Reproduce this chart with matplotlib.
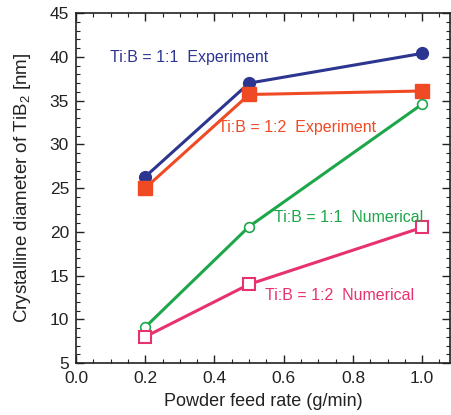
import matplotlib
matplotlib.use("Agg")
import matplotlib.pyplot as plt
from matplotlib.ticker import MultipleLocator

plt.rcParams['font.family'] = ['Liberation Sans', 'DejaVu Sans']
plt.rcParams['mathtext.fontset'] = 'custom'
plt.rcParams['mathtext.rm'] = 'Liberation Sans'

# powder feed rate (g/min)
feed = [0.2, 0.5, 1.0]

# crystalline diameter of TiB2 (nm)
exp_11 = [26.3, 37.0, 40.4]
exp_12 = [25.0, 35.7, 36.1]
num_11 = [9.1, 20.6, 34.6]
num_12 = [8.0, 14.0, 20.5]

blue = '#2c3590'
red = '#f04a24'
green = '#1ea64b'
pink = '#e8316f'

fig = plt.figure(figsize=(4.51, 4.15), dpi=100)
ax = fig.add_axes([0.1685, 0.1253, 0.829, 0.843])

ax.plot(feed, exp_11, '-o', color=blue, lw=2.2, ms=8.5)
ax.plot(feed, exp_12, '-s', color=red, lw=2.2, ms=9.5)
ax.plot(feed, num_11, '-o', color=green, lw=2.2, ms=7, mfc='white', mew=1.2)
ax.plot(feed, num_12, '-s', color=pink, lw=2.2, ms=8.5, mfc='white', mew=1.5)

ax.text(0.098, 39.9, 'Ti:B = 1:1  Experiment', color=blue, fontsize=11.5, va='center')
ax.text(0.41, 31.9, 'Ti:B = 1:2  Experiment', color=red, fontsize=11.5, va='center')
ax.text(0.572, 21.6, 'Ti:B = 1:1  Numerical', color=green, fontsize=11.5, va='center')
ax.text(0.546, 12.7, 'Ti:B = 1:2  Numerical', color=pink, fontsize=11.5, va='center')

ax.set_xlim(0, 1.08)
ax.set_ylim(5, 45)
ax.xaxis.set_major_locator(MultipleLocator(0.2))
ax.xaxis.set_minor_locator(MultipleLocator(0.05))
ax.yaxis.set_major_locator(MultipleLocator(5))
ax.yaxis.set_minor_locator(MultipleLocator(1))
ax.tick_params(which='both', direction='in', top=True, right=True, labelsize=12.5, colors='#222222')
ax.tick_params(which='major', length=6, width=1)
ax.tick_params(which='minor', length=3, width=0.8)
ax.tick_params(axis='x', pad=6)
ax.tick_params(axis='y', pad=5)
ax.set_xticklabels(['%.1f' % v for v in ax.get_xticks()])
for s in ax.spines.values():
    s.set_linewidth(1.2)
    s.set_color('#222222')

ax.set_xlabel('Powder feed rate (g/min)', fontsize=13, color='#222222', labelpad=5)
ax.set_ylabel('Crystalline diameter of TiB$_2$ [nm]', fontsize=13.5, color='#222222', labelpad=12)

fig.savefig('out.png', dpi=100)
